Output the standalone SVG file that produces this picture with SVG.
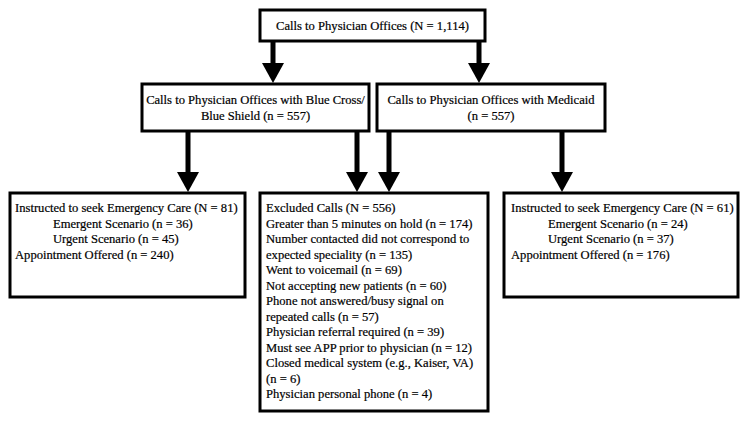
<svg xmlns="http://www.w3.org/2000/svg" width="750" height="424" viewBox="0 0 750 424">
<style>
.box{fill:#fff;stroke:#000;stroke-width:3}
text{font-family:'Liberation Serif','Times New Roman','DejaVu Serif',serif;font-size:12.6px;fill:#000;stroke:#000;stroke-width:0.2}
.c{text-anchor:middle}
</style>
<rect width="750" height="424" fill="#fff"/>
<g id="connectors" fill="#000">
<rect x="270.5" y="41" width="5" height="23"/><polygon points="262,63 284,63 273,83"/>
<rect x="476.5" y="41" width="5" height="23"/><polygon points="468,63 490,63 479,83"/>
<rect x="185.5" y="131" width="5" height="42"/><polygon points="177,172 199,172 188,192"/>
<rect x="354.5" y="131" width="5" height="42"/><polygon points="346,172 368,172 357,192"/>
<rect x="386.5" y="131" width="5" height="42"/><polygon points="378,172 400,172 389,192"/>
<rect x="559.5" y="131" width="5" height="42"/><polygon points="551,172 573,172 562,192"/>
</g>
<g id="top">
<rect class="box" x="260" y="10" width="225" height="31"/>
<text class="c" x="372.5" y="30">Calls to Physician Offices (N = 1,114)</text>
</g>
<g id="bcbs">
<rect class="box" x="142" y="84" width="227" height="47"/>
<text class="c" x="255.5" y="104">Calls to Physician Offices with Blue Cross/</text>
<text class="c" x="255.5" y="120">Blue Shield (n = 557)</text>
</g>
<g id="medicaid">
<rect class="box" x="377" y="84" width="228" height="47"/>
<text class="c" x="491" y="104">Calls to Physician Offices with Medicaid</text>
<text class="c" x="491" y="120">(n = 557)</text>
</g>
<g id="bcbs-outcome">
<rect class="box" x="10" y="193" width="235" height="104"/>
<text x="15" y="212">Instructed to seek Emergency Care (N = 81)</text>
<text x="53" y="227.5">Emergent Scenario (n = 36)</text>
<text x="53" y="243">Urgent Scenario (n = 45)</text>
<text x="15" y="258.5">Appointment Offered (n = 240)</text>
</g>
<g id="excluded">
<rect class="box" x="260" y="193" width="228" height="218"/>
<text x="266" y="212">Excluded Calls (N = 556)</text>
<text x="266" y="227.5">Greater than 5 minutes on hold (n = 174)</text>
<text x="266" y="243">Number contacted did not correspond to</text>
<text x="266" y="258.5">expected speciality (n = 135)</text>
<text x="266" y="274">Went to voicemail (n = 69)</text>
<text x="266" y="289.5">Not accepting new patients (n = 60)</text>
<text x="266" y="305">Phone not answered/busy signal on</text>
<text x="266" y="320.5">repeated calls (n = 57)</text>
<text x="266" y="336">Physician referral required (n = 39)</text>
<text x="266" y="351.5">Must see APP prior to physician (n = 12)</text>
<text x="266" y="367">Closed medical system (e.g., Kaiser, VA)</text>
<text x="266" y="382.5">(n = 6)</text>
<text x="266" y="398">Physician personal phone (n = 4)</text>
</g>
<g id="medicaid-outcome">
<rect class="box" x="504" y="193" width="234" height="104"/>
<text x="511" y="212">Instructed to seek Emergency Care (N = 61)</text>
<text x="548" y="227.5">Emergent Scenario (n = 24)</text>
<text x="548" y="243">Urgent Scenario (n = 37)</text>
<text x="511" y="258.5">Appointment Offered (n = 176)</text>
</g>
</svg>
